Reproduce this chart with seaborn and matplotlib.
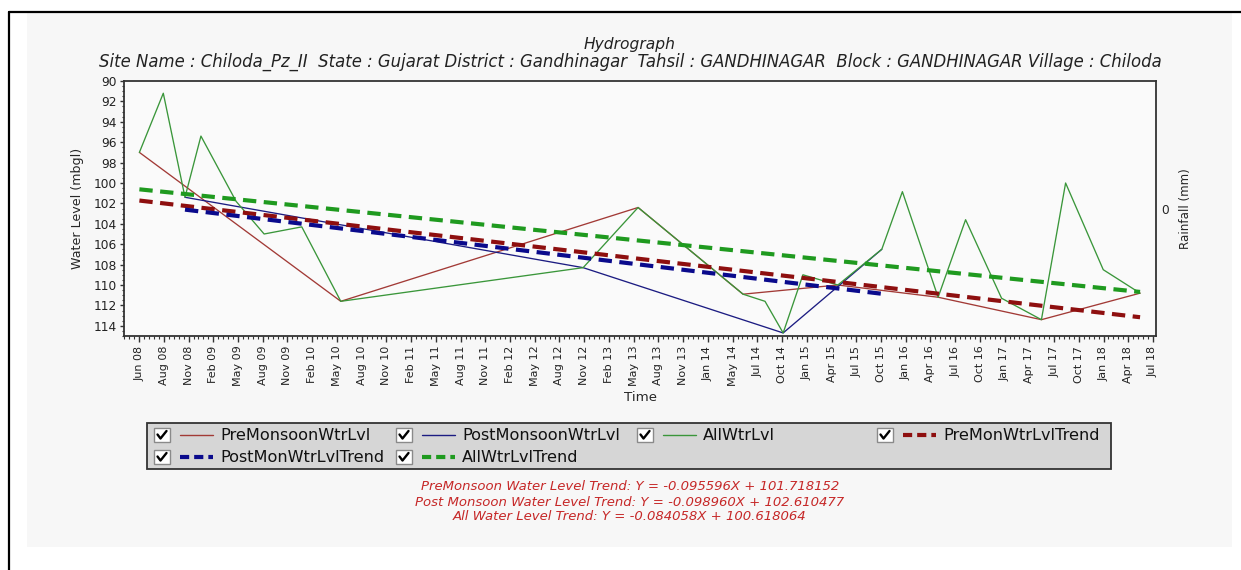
import numpy as np
import pandas as pd
import matplotlib
matplotlib.use("Agg")
import matplotlib.pyplot as plt
import matplotlib.ticker as mticker
import matplotlib.dates as mdates
import matplotlib.transforms as mtransforms
from matplotlib.lines import Line2D
from matplotlib.patches import Rectangle
import seaborn as sns

# ---------------- data ----------------
all_dates = ["2008-06-02", "2008-08-28", "2008-11-15", "2009-01-12", "2009-05-20",
             "2009-08-30", "2010-01-14", "2010-06-05", "2012-11-03", "2013-05-22",
             "2014-06-08", "2014-08-27", "2014-11-01", "2015-01-12", "2015-05-19",
             "2015-10-26", "2016-01-09", "2016-05-18", "2016-08-26", "2017-01-04",
             "2017-05-29", "2017-08-25", "2018-01-09", "2018-05-23"]
all_levels = [97.0, 91.2, 101.4, 95.4, 101.8,
              105.0, 104.3, 111.6, 108.3, 102.4,
              110.9, 111.6, 114.7, 109.0, 110.0,
              106.5, 100.85, 111.2, 103.6, 111.3,
              113.4, 100.0, 108.5, 110.8]

pre_dates = ["2008-06-02", "2010-06-05", "2013-05-22", "2014-06-08",
             "2015-05-19", "2016-05-18", "2017-05-29", "2018-05-23"]
pre_levels = [97.0, 111.6, 102.4, 110.9, 110.0, 111.2, 113.4, 110.8]

post_dates = ["2008-11-15", "2012-11-03", "2014-11-01", "2015-10-26"]
post_levels = [101.4, 108.3, 114.7, 106.5]

pre_trend_dates = ["2008-06-02", "2018-05-23"]
pre_trend_levels = [101.72, 113.16]
post_trend_dates = ["2008-11-15", "2015-10-26"]
post_trend_levels = [102.61, 110.86]
all_trend_dates = ["2008-06-02", "2018-05-23"]
all_trend_levels = [100.62, 110.68]

series_names = ["PreMonsoonWtrLvl", "PostMonsoonWtrLvl", "AllWtrLvl",
                "PreMonWtrLvlTrend", "PostMonWtrLvlTrend", "AllWtrLvlTrend"]

x_tick_start = "2008-06-01"
x_tick_labels = ["Jun 08", "Aug 08", "Nov 08", "Feb 09", "May 09", "Aug 09", "Nov 09",
                 "Feb 10", "May 10", "Aug 10", "Nov 10", "Feb 11", "May 11", "Aug 11",
                 "Nov 11", "Feb 12", "May 12", "Aug 12", "Nov 12", "Feb 13", "May 13",
                 "Aug 13", "Nov 13", "Jan 14", "May 14", "Jul 14", "Oct 14", "Jan 15",
                 "Apr 15", "Jul 15", "Oct 15", "Jan 16", "Apr 16", "Jul 16", "Oct 16",
                 "Jan 17", "Apr 17", "Jul 17", "Oct 17", "Jan 18", "Apr 18", "Jul 18"]
y_ticks = list(range(90, 115, 2))

title = "Hydrograph"
subtitle = ("Site Name : Chiloda_Pz_II  State : Gujarat District : Gandhinagar  "
            "Tahsil : GANDHINAGAR  Block : GANDHINAGAR Village : Chiloda")
equations = ["PreMonsoon Water Level Trend: Y = -0.095596X + 101.718152",
             "Post Monsoon Water Level Trend: Y = -0.098960X + 102.610477",
             "All Water Level Trend: Y = -0.084058X + 100.618064"]

# ---------------- style ----------------
sns.set_style("ticks")
plt.rcParams["font.family"] = ["DejaVu Sans"]

c_pre = "#a23a36"
c_post = "#1c1c82"
c_all = "#3a963a"
c_pre_t = "#8e0f0f"
c_post_t = "#0a0a8c"
c_all_t = "#1f9a1f"
dash = (0, (3.2, 1.8))

W, H = 1241, 570
fig = plt.figure(figsize=(W / 100, H / 100), dpi=100)
fig.patch.set_facecolor("white")
pix = mtransforms.Affine2D().scale(1 / W, -1 / H).translate(0, 1) + fig.transFigure

# panel & outer frame
fig.add_artist(Rectangle((27, 13), 1205, 534, transform=pix, facecolor="#f7f7f7",
                         edgecolor="none", zorder=-10))
fig.add_artist(Line2D([9, 9], [12, 570], transform=pix, color="black", lw=1.6))
fig.add_artist(Line2D([9, 1241], [12, 12], transform=pix, color="black", lw=1.6))

ax = fig.add_axes([124 / W, 1 - 336 / H, (1156 - 124) / W, (336 - 81) / H])
ax.set_facecolor("#fafafa")

def frame(dates, levels):
    return pd.DataFrame({"date": pd.to_datetime(dates), "level": levels})

sns.lineplot(data=frame(pre_dates, pre_levels), x="date", y="level", ax=ax,
             color=c_pre, linewidth=0.95, estimator=None, sort=False)
sns.lineplot(data=frame(post_dates, post_levels), x="date", y="level", ax=ax,
             color=c_post, linewidth=0.95, estimator=None, sort=False)
sns.lineplot(data=frame(all_dates, all_levels), x="date", y="level", ax=ax,
             color=c_all, linewidth=0.95, estimator=None, sort=False)
sns.lineplot(data=frame(pre_trend_dates, pre_trend_levels), x="date", y="level", ax=ax,
             color=c_pre_t, linewidth=3.0, linestyle=dash, estimator=None, sort=False)
sns.lineplot(data=frame(post_trend_dates, post_trend_levels), x="date", y="level", ax=ax,
             color=c_post_t, linewidth=3.0, linestyle=dash, estimator=None, sort=False)
sns.lineplot(data=frame(all_trend_dates, all_trend_levels), x="date", y="level", ax=ax,
             color=c_all_t, linewidth=3.0, linestyle=dash, estimator=None, sort=False)

d0 = pd.Timestamp(x_tick_start)
ax.set_xlim(mdates.date2num(d0 - pd.Timedelta(days=55)),
            mdates.date2num(d0 + pd.Timedelta(days=3701)))
ax.set_ylim(115, 90)

tick_pos = mdates.date2num(pd.date_range(x_tick_start, periods=len(x_tick_labels), freq="90D"))
ax.set_xticks(tick_pos)
ax.set_xticklabels(x_tick_labels, rotation=90, fontsize=8, color="#222222")
ax.xaxis.set_minor_locator(mticker.MultipleLocator(18, offset=mdates.date2num(d0)))
ax.set_yticks(y_ticks)
ax.set_yticklabels([str(v) for v in y_ticks], fontsize=8.8, color="#222222")
ax.yaxis.set_minor_locator(mticker.MultipleLocator(0.5))

ax.tick_params(axis="x", which="major", length=4, width=1, pad=3, color="#333333")
ax.tick_params(axis="x", which="minor", length=2, width=0.8, color="#333333")
ax.tick_params(axis="y", which="major", length=3, width=1, pad=2, color="#333333")
ax.tick_params(axis="y", which="minor", length=1.5, width=0.8, color="#333333")
for sp in ax.spines.values():
    sp.set_visible(True)
    sp.set_color("#333333")
    sp.set_linewidth(1.3)

ax.set_xlabel("Time", fontsize=9.6, labelpad=3)
ax.set_ylabel("Water Level (mbgl)", fontsize=9.1, labelpad=7)

ax2 = ax.twinx()
ax2.set_ylim(-1, 1)
ax2.set_yticks([0])
ax2.set_yticklabels(["0"], fontsize=8.8)
ax2.tick_params(axis="y", length=0, pad=4)
ax2.set_ylabel("Rainfall (mm)", fontsize=8.6, labelpad=7)
for sp in ax2.spines.values():
    sp.set_visible(False)

# titles
fig.text(630, 44, title, transform=pix, ha="center", va="center",
         fontsize=11.2, style="italic", color="#222222")
fig.text(630, 62, subtitle, transform=pix, ha="center", va="center",
         fontsize=11.9, style="italic", color="#222222")

# legend box
fig.add_artist(Rectangle((147, 423), 964, 46, transform=pix, facecolor="#d6d6d6",
                         edgecolor="#333333", lw=1.3, zorder=2))
col_x = [154, 396, 637, 877]
row_y = [428, 450]
slots = [(0, 0), (1, 0), (2, 0), (3, 0), (0, 1), (1, 1)]
styles = [(c_pre, 1.0, "-"), (c_post, 1.0, "-"), (c_all, 1.0, "-"),
          (c_pre_t, 3.0, (0, (2.2, 1.2))), (c_post_t, 3.0, (0, (2.2, 1.2))),
          (c_all_t, 3.0, (0, (2.2, 1.2)))]
for name, (ci, ri), (col, lw, ls) in zip(series_names, slots, styles):
    cx, cy = col_x[ci], row_y[ri]
    fig.add_artist(Rectangle((cx, cy), 16, 14, transform=pix, facecolor="white",
                             edgecolor="#8a8a8a", lw=1.0, zorder=3))
    fig.add_artist(Line2D([cx + 3.5, cx + 6.5, cx + 12.5], [cy + 6.5, cy + 10.5, cy + 3],
                          transform=pix, color="black", lw=1.7, zorder=4))
    fig.add_artist(Line2D([cx + 26, cx + 59], [cy + 7, cy + 7], transform=pix,
                          color=col, lw=lw, linestyle=ls, zorder=4))
    fig.text(cx + 66, cy + 7, name, transform=pix, ha="left", va="center",
             fontsize=11.6, color="#111111", zorder=4)

# trend equations
for i, eq in enumerate(equations):
    fig.text(630, 487 + 15 * i, eq, transform=pix, ha="center", va="center",
             fontsize=9.5, style="italic", color="#c62828")

fig.savefig("out.png", dpi=100)
